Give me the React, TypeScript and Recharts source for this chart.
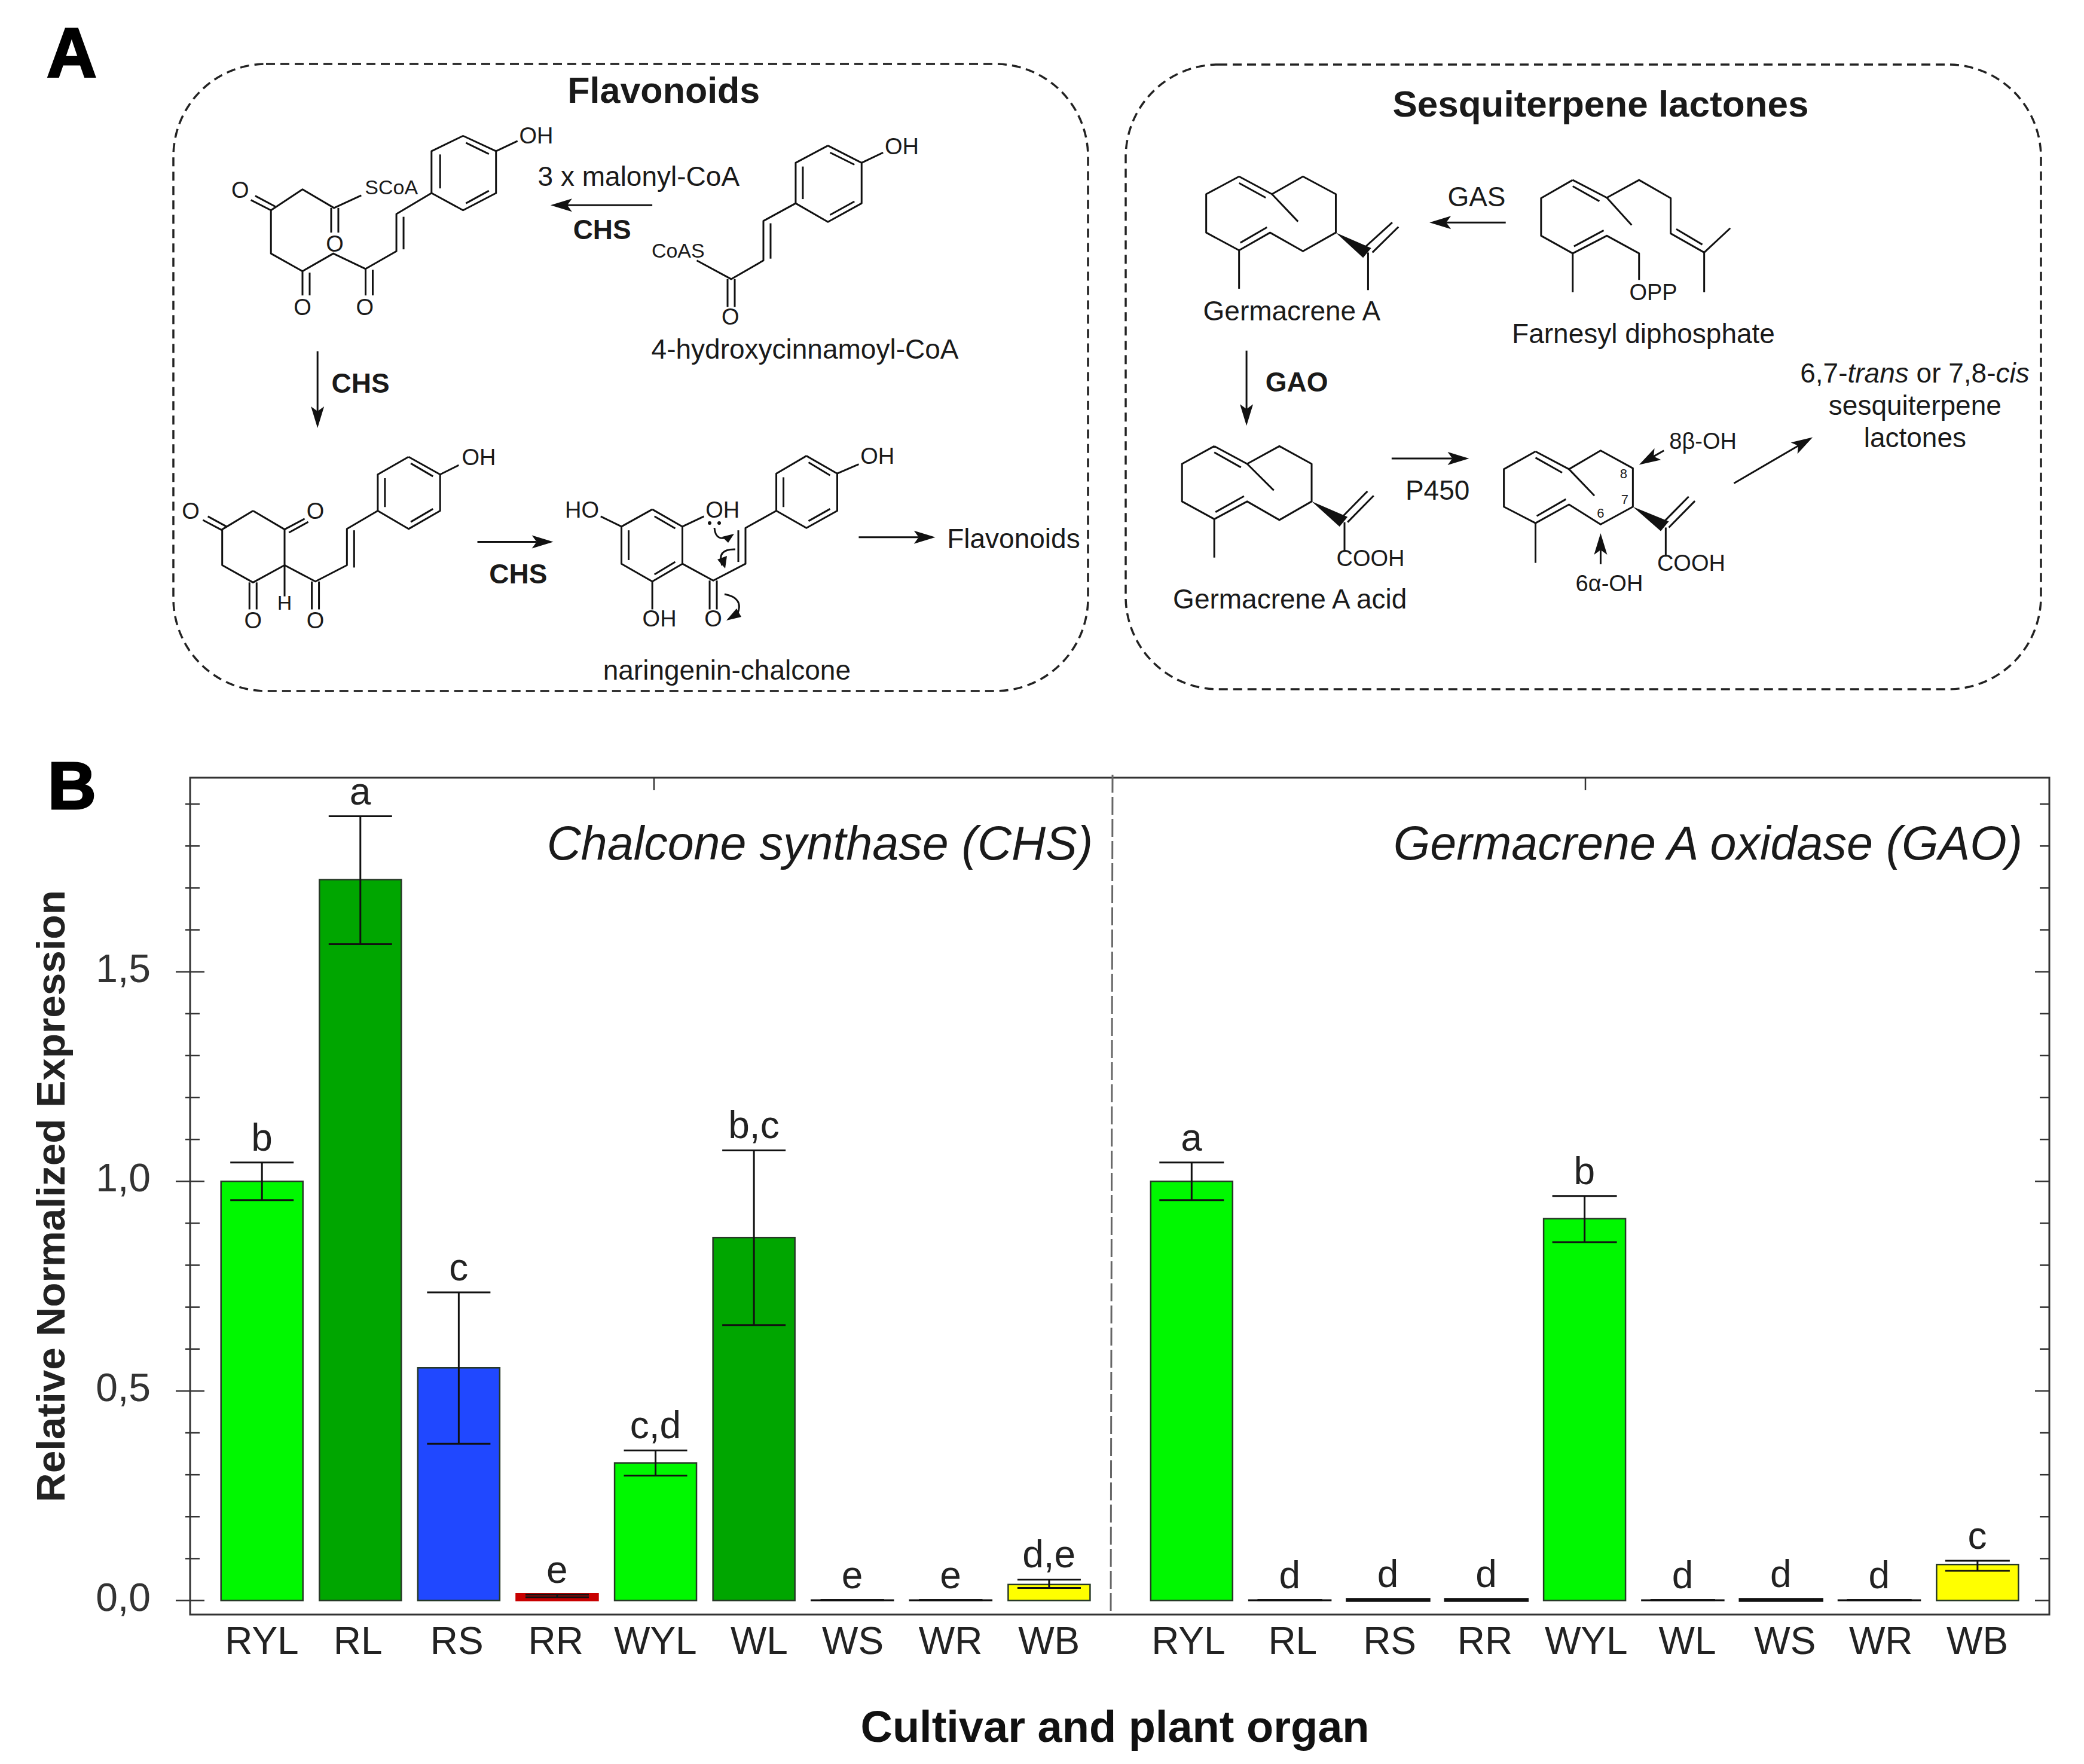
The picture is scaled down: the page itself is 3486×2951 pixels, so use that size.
import React from 'react';
import { ComposedChart, Bar, Line, Cell, ErrorBar, LabelList, XAxis, YAxis } from 'recharts';

const FONT = '"Liberation Sans", Arial, sans-serif';
const INK = '#1a1a1a';

// expression values
const categories = ['RYL', 'RL', 'RS', 'RR', 'WYL', 'WL', 'WS', 'WR', 'WB'];
const barColors = ['#00f800', '#00a600', '#2048ff', '#c80000', '#00f800', '#00a600', '#00a600', '#00a600', '#ffff00'];

const chsValues = [1.0, 1.72, 0.555, 0.016, 0.328, 0.866, 0.001, 0.001, 0.038];
const chsLower = [0.955, 1.566, 0.374, 0.008, 0.298, 0.657, 0.001, 0.001, 0.03];
const chsUpper = [1.045, 1.871, 0.735, 0.014, 0.358, 1.074, 0.001, 0.001, 0.05];
const chsLetters = ['b', 'a', 'c', 'e', 'c,d', 'b,c', 'e', 'e', 'd,e'];

const gaoValues = [1.0, 0.001, 0.003, 0.003, 0.911, 0.001, 0.003, 0.001, 0.086];
const gaoLower = [0.955, 0.001, 0.003, 0.003, 0.855, 0.001, 0.003, 0.001, 0.071];
const gaoUpper = [1.045, 0.001, 0.003, 0.003, 0.965, 0.001, 0.003, 0.001, 0.095];
const gaoLetters = ['a', 'd', 'd', 'd', 'b', 'd', 'd', 'd', 'c'];

const yTicks = [0, 0.1, 0.2, 0.3, 0.4, 0.5, 0.6, 0.7, 0.8, 0.9, 1.0, 1.1, 1.2, 1.3, 1.4, 1.5, 1.6, 1.7, 1.8, 1.9];
const yDomain = [-0.0335, 1.963];

// the category labels in the figure are not quite centred under their bars
const chsTickNudge = [0, -4, -3, -2, 0, 9, 1, 0, 0];
const gaoTickNudge = [-5, 5, 3, -2, 3, 8, 7, 3, 0];

const isMajor = (v: number) => Math.abs(v * 2 - Math.round(v * 2)) < 1e-6;

function makeRows(values: number[], lower: number[], upper: number[], letters: string[]) {
  return categories.map((name, i) => ({
    name,
    value: values[i],
    upper: upper[i],
    err: [values[i] - lower[i], upper[i] - values[i]],
    letter: letters[i],
  }));
}

function LeftTick({ x, y, payload }: any) {
  const major = isMajor(payload.value);
  return (
    <g>
      <line x1={x - (major ? 24 : 8)} x2={x + (major ? 24 : 16)} y1={y} y2={y} stroke="#333" strokeWidth={2.5} />
      {major && (
        <text x={x - 66} y={y + 17} textAnchor="end" fontSize={66} fontFamily={FONT} fill="#333">
          {payload.value.toFixed(1).replace('.', ',')}
        </text>
      )}
    </g>
  );
}

function RightTick({ x, y, payload }: any) {
  const major = isMajor(payload.value);
  return <line x1={x - (major ? 24 : 16)} x2={x} y1={y} y2={y} stroke="#333" strokeWidth={2.5} />;
}

function CategoryTick({ x, y, payload, index, nudge }: any) {
  return (
    <text x={x + nudge[index]} y={y + 66} textAnchor="middle" fontSize={64} fontFamily={FONT} fill="#222">
      {payload.value}
    </text>
  );
}

function Panel({ rows, left, width, plotLeft, plotRight, pad, tick, capWidth, orientation, nudge }: any) {
  return (
    <div style={{ position: 'absolute', left, top: 0 }}>
      <ComposedChart
        width={width}
        height={2951}
        data={rows}
        margin={{ top: 1301, bottom: 249, left: plotLeft, right: plotRight }}
      >
        <XAxis
          dataKey="name"
          interval={0}
          height={1}
          padding={pad}
          axisLine={false}
          tickLine={false}
          tickSize={0}
          tickMargin={0}
          tick={<CategoryTick nudge={nudge} />}
        />
        <YAxis
          orientation={orientation}
          width={1}
          type="number"
          domain={yDomain}
          ticks={yTicks}
          interval={0}
          axisLine={false}
          tickLine={false}
          tickSize={0}
          tickMargin={0}
          tick={tick}
        />
        <Bar dataKey="value" barSize={137} stroke="#263826" strokeWidth={2.5} isAnimationActive={false}>
          {rows.map((r: any, i: number) => {
            // near-zero bars read as plain black rules in the figure
            const tiny = r.value < 0.01;
            return (
              <Cell
                key={r.name}
                fill={barColors[i]}
                stroke={tiny ? '#111' : r.value < 0.02 ? barColors[i] : '#263826'}
                strokeWidth={tiny && r.value > 0.002 ? 4.5 : 2.5}
              />
            );
          })}
          <ErrorBar dataKey="err" width={capWidth} stroke="#111" strokeWidth={3} isAnimationActive={false} />
        </Bar>
        <Line dataKey="upper" stroke="none" dot={false} activeDot={false} isAnimationActive={false}>
          <LabelList dataKey="letter" position="top" offset={20} fontSize={64} fontFamily={FONT} fill="#222" />
        </Line>
      </ComposedChart>
    </div>
  );
}

// ---- panel A drawing helpers, coordinates taken from the two crops ----
type P = [number, number];
const fromL = ([x, y]: P): P => [x / 0.834, y / 1.285];
const fromR = ([x, y]: P): P => [1860 + x / 0.964, 60 + y / 1.352];

function bonds(map: (p: P) => P, lines: P[][]) {
  return lines.map((pts, i) => (
    <polyline
      key={i}
      points={pts.map(map).map((p) => p.join(',')).join(' ')}
      fill="none"
      stroke="#111"
      strokeWidth={3}
      strokeLinejoin="round"
    />
  ));
}

function labels(map: (p: P) => P, items: [number, number, string, number?, boolean?][]) {
  return items.map(([x, y, s, size, bold], i) => {
    const [tx, ty] = map([x, y]);
    const fs = size ?? 46;
    return (
      <text
        key={i}
        x={tx}
        y={ty + fs * 0.36 - 2}
        textAnchor="middle"
        fontSize={fs}
        fontWeight={bold ? 700 : 400}
        fontFamily={FONT}
        fill={INK}
      >
        {s}
      </text>
    );
  });
}

function arrows(map: (p: P) => P, items: [P, P][]) {
  return items.map(([a, b], i) => {
    const [x1, y1] = map(a);
    const [x2, y2] = map(b);
    const len = Math.hypot(x2 - x1, y2 - y1);
    const ux = (x2 - x1) / len;
    const uy = (y2 - y1) / len;
    const head = 36;
    const half = 11;
    const bx = x2 - ux * head;
    const by = y2 - uy * head;
    const nx = bx + ux * 8;
    const ny = by + uy * 8;
    return (
      <g key={i}>
        <line x1={x1} y1={y1} x2={nx} y2={ny} stroke="#111" strokeWidth={3} />
        <polygon
          points={`${x2},${y2} ${bx - uy * half},${by + ux * half} ${nx},${ny} ${bx + uy * half},${by - ux * half}`}
          fill="#111"
        />
      </g>
    );
  });
}

function wedges(map: (p: P) => P, items: [P, P, P][]) {
  return items.map((pts, i) => (
    <polygon key={i} points={pts.map(map).map((p) => p.join(',')).join(' ')} fill="#111" />
  ));
}

const leftBonds: P[][] = [
  // malonyl intermediate
  [[646, 292], [692, 325], [692, 415], [646, 452], [602, 415], [602, 325], [646, 292]],
  [[614, 332], [614, 405]], [[650, 307], [682, 331]], [[650, 437], [682, 410]],
  [[692, 325], [722, 303]],
  [[602, 415], [553, 460], [553, 540], [510, 578], [510, 635]],
  [[563, 466], [563, 536]], [[520, 580], [520, 635]],
  [[510, 578], [465, 545], [422, 583], [422, 635]], [[432, 586], [432, 635]],
  [[422, 583], [378, 545], [378, 452], [350, 430]], [[384, 444], [356, 421]],
  [[378, 452], [422, 407], [466, 447], [504, 420]],
  [[462, 447], [462, 500]], [[472, 447], [472, 500]],
  // 4-hydroxycinnamoyl-CoA
  [[1155, 313], [1202, 350], [1202, 437], [1155, 477], [1110, 437], [1110, 350], [1155, 313]],
  [[1120, 358], [1120, 428]], [[1158, 328], [1192, 354]], [[1158, 462], [1192, 433]],
  [[1202, 350], [1232, 328]],
  [[1110, 437], [1065, 475], [1065, 560], [1020, 600], [972, 560]],
  [[1075, 480], [1075, 556]],
  [[1015, 600], [1015, 660]], [[1025, 600], [1025, 660]],
  // cyclised intermediate
  [[353, 1098], [397, 1138], [397, 1215], [353, 1252], [310, 1215], [310, 1138], [353, 1098]],
  [[310, 1140], [283, 1118]], [[316, 1132], [290, 1110]],
  [[397, 1138], [425, 1115]], [[403, 1145], [430, 1122]],
  [[348, 1252], [348, 1310]], [[358, 1252], [358, 1310]],
  [[397, 1215], [397, 1282]],
  [[397, 1215], [440, 1250], [484, 1215], [484, 1137], [527, 1098]],
  [[435, 1250], [435, 1310]], [[445, 1250], [445, 1310]], [[494, 1220], [494, 1140]],
  [[570, 982], [614, 1020], [614, 1098], [570, 1137], [527, 1098], [527, 1020], [570, 982]],
  [[537, 1028], [537, 1090]], [[573, 996], [604, 1024]], [[573, 1122], [604, 1094]],
  [[614, 1020], [640, 1000]],
  // naringenin-chalcone
  [[910, 1095], [952, 1132], [952, 1212], [910, 1250], [867, 1212], [867, 1132], [910, 1095]],
  [[877, 1140], [877, 1204]], [[913, 1110], [942, 1136]], [[913, 1235], [942, 1208]],
  [[867, 1132], [838, 1110]], [[952, 1132], [982, 1110]],
  [[910, 1250], [910, 1310]],
  [[952, 1212], [995, 1248], [1040, 1212], [1040, 1135], [1083, 1098]],
  [[990, 1248], [990, 1310]], [[1000, 1248], [1000, 1310]], [[1030, 1208], [1030, 1140]],
  [[1125, 980], [1168, 1018], [1168, 1098], [1125, 1135], [1083, 1098], [1083, 1018], [1125, 980]],
  [[1093, 1026], [1093, 1090]], [[1128, 994], [1158, 1022]], [[1128, 1120], [1158, 1094]],
  [[1168, 1018], [1198, 998]],
];

const leftArrows: [P, P][] = [
  [[910, 441], [768, 441]],
  [[443, 755], [443, 920]],
  [[666, 1165], [772, 1165]],
  [[1198, 1155], [1305, 1155]],
];

const leftLabels: [number, number, string, number?, boolean?][] = [
  [926, 196, 'Flavonoids', 61, true],
  [748, 293, 'OH', 38], [546, 405, 'SCoA', 34], [335, 410, 'O', 38], [467, 526, 'O', 38],
  [422, 662, 'O', 38], [509, 662, 'O', 38],
  [891, 381, '3 x malonyl-CoA'], [840, 495, 'CHS', 46, true],
  [1258, 317, 'OH', 38], [946, 541, 'CoAS', 34], [1019, 683, 'O', 38],
  [1123, 752, '4-hydroxycinnamoyl-CoA'],
  [503, 825, 'CHS', 46, true],
  [668, 985, 'OH', 38], [266, 1101, 'O', 38], [440, 1101, 'O', 38], [353, 1335, 'O', 38],
  [397, 1298, 'H', 34], [440, 1335, 'O', 38],
  [723, 1236, 'CHS', 46, true],
  [812, 1098, 'HO', 38], [1008, 1098, 'OH', 38], [920, 1332, 'OH', 38], [995, 1332, 'O', 38],
  [1224, 982, 'OH', 38],
  [1414, 1160, 'Flavonoids'], [1014, 1442, 'naringenin-chalcone'],
];

const rightBonds: P[][] = [
  // germacrene A
  [[205, 318], [258, 358], [308, 318], [361, 358], [361, 445], [308, 487], [255, 445], [205, 485], [152, 445], [152, 358], [205, 318]],
  [[205, 333], [248, 366]], [[250, 433], [207, 468]],
  [[258, 358], [300, 420]], [[205, 485], [205, 572]],
  [[413, 490], [413, 575]], [[408, 478], [452, 422]], [[420, 490], [462, 432]],
  // farnesyl diphosphate
  [[743, 326], [798, 366], [850, 326], [901, 367], [901, 447], [955, 490], [997, 435]],
  [[910, 437], [952, 472]], [[955, 490], [955, 580]],
  [[743, 326], [692, 367], [692, 452], [743, 492], [798, 452], [850, 492], [850, 552]],
  [[743, 340], [786, 374]], [[793, 440], [745, 476]],
  [[743, 492], [743, 580]], [[798, 366], [838, 428]],
  // germacrene A acid
  [[165, 928], [218, 968], [270, 928], [322, 968], [322, 1053], [270, 1095], [218, 1053], [165, 1093], [113, 1053], [113, 968], [165, 928]],
  [[165, 942], [208, 976]], [[213, 1041], [167, 1077]],
  [[218, 968], [261, 1028]], [[165, 1093], [165, 1180]],
  [[375, 1100], [375, 1165]], [[370, 1090], [412, 1030]], [[380, 1100], [422, 1040]],
  // hydroxylated intermediate
  [[683, 940], [737, 980], [788, 938], [840, 978], [840, 1065], [788, 1105], [737, 1060], [683, 1102], [632, 1065], [632, 980], [683, 940]],
  [[683, 954], [726, 988]], [[732, 1048], [685, 1086]],
  [[737, 980], [778, 1040]], [[683, 1102], [683, 1192]],
  [[893, 1112], [893, 1178]], [[888, 1102], [930, 1042]], [[898, 1112], [940, 1052]],
];

const rightWedges: [P, P, P][] = [
  [[361, 445], [418, 480], [405, 502]],
  [[322, 1053], [380, 1088], [367, 1110]],
  [[840, 1065], [898, 1098], [885, 1120]],
];

const rightArrows: [P, P][] = [
  [[635, 422], [512, 422]],
  [[217, 712], [217, 882]],
  [[451, 956], [576, 956]],
  [[890, 938], [850, 970]],
  [[788, 1195], [788, 1125]],
  [[1003, 1012], [1130, 908]],
];

const rightLabels: [number, number, string, number?, boolean?][] = [
  [788, 155, 'Sesquiterpene lactones', 62, true],
  [588, 366, 'GAS'], [873, 582, 'OPP', 38], [290, 624, 'Germacrene A'], [857, 675, 'Farnesyl diphosphate'],
  [298, 785, 'GAO', 46, true], [525, 1030, 'P450'],
  [417, 1183, 'COOH', 38], [934, 1194, 'COOH', 38], [287, 1275, 'Germacrene A acid'],
  [953, 918, '8β-OH', 38], [802, 1240, '6α-OH', 38],
  [825, 992, '8', 22], [827, 1050, '7', 22], [788, 1082, '6', 22],
  [1295, 838, 'sesquiterpene'], [1295, 910, 'lactones'],
];

function Overlay() {
  return (
    <svg width={3486} height={2951} style={{ position: 'absolute', left: 0, top: 0 }}>
      <text x={78} y={129} fontSize={116} fontWeight={700} fontFamily={FONT} fill="#000" stroke="#000" strokeWidth={3}>A</text>
      <text x={80} y={1353} fontSize={112} fontWeight={700} fontFamily={FONT} fill="#000" stroke="#000" strokeWidth={3}>B</text>

      <rect x={290} y={107} width={1530} height={1049} rx={155} fill="none" stroke="#222" strokeWidth={3.5} strokeDasharray="15 9" />
      <rect x={1883} y={108} width={1531} height={1045} rx={155} fill="none" stroke="#222" strokeWidth={3.5} strokeDasharray="15 9" />

      {bonds(fromL, leftBonds)}
      {arrows(fromL, leftArrows)}
      {labels(fromL, leftLabels)}
      {/* curved electron arrows on naringenin-chalcone */}
      <path d="M1195,883 Q1197,908 1222,897 M1230,919 Q1198,918 1208,946 M1212,994 Q1244,1000 1234,1026" fill="none" stroke="#111" strokeWidth={3} />
      <polygon points="1228,893 1208,898 1218,908" fill="#111" />
      <polygon points="1213,951 1200,936 1216,930" fill="#111" />
      <polygon points="1215,1038 1232,1018 1240,1032" fill="#111" />
      <circle cx={1187} cy={875} r={3} fill="#111" />
      <circle cx={1203} cy={875} r={3} fill="#111" />

      {bonds(fromR, rightBonds)}
      {wedges(fromR, rightWedges)}
      {arrows(fromR, rightArrows)}
      {labels(fromR, rightLabels)}
      <text x={3203} y={640} textAnchor="middle" fontSize={46} fontFamily={FONT} fill={INK}>
        6,7-<tspan fontStyle="italic">trans</tspan> or 7,8-<tspan fontStyle="italic">cis</tspan>
      </text>

      {/* panel B frame and texts */}
      <rect x={318} y={1301} width={3110} height={1400} fill="none" stroke="#333" strokeWidth={3} />
      <line x1={1094} x2={1094} y1={1301} y2={1322} stroke="#333" strokeWidth={2.5} />
      <line x1={2652} x2={2652} y1={1301} y2={1322} stroke="#333" strokeWidth={2.5} />
      <line x1={1861} y1={1296} x2={1858} y2={2701} stroke="#666" strokeWidth={3} strokeDasharray="30 7" />
      <text x={1828} y={1438} textAnchor="end" fontSize={79} fontStyle="italic" fontFamily={FONT} fill={INK}>
        Chalcone synthase (CHS)
      </text>
      <text x={3383} y={1438} textAnchor="end" fontSize={79} fontStyle="italic" fontFamily={FONT} fill={INK}>
        Germacrene A oxidase (GAO)
      </text>
      <text x={1865} y={2914} textAnchor="middle" fontSize={74} fontWeight={700} fontFamily={FONT} fill="#111">
        Cultivar and plant organ
      </text>
      <text
        transform="translate(108,2001) rotate(-90)"
        textAnchor="middle"
        fontSize={67.5}
        fontWeight={700}
        fontFamily={FONT}
        fill="#222"
      >
        Relative Normalized Expression
      </text>
    </svg>
  );
}

export default function App() {
  const chsRows = makeRows(chsValues, chsLower, chsUpper, chsLetters);
  const gaoRows = makeRows(gaoValues, gaoLower, gaoUpper, gaoLetters);
  return (
    <div style={{ position: 'absolute', left: 0, top: 0, width: 3486, height: 2951, background: '#fff', overflow: 'hidden' }}>
      <Panel
        rows={chsRows}
        left={0}
        width={1860}
        plotLeft={317}
        plotRight={0}
        pad={{ left: 37.7, right: 23 }}
        tick={<LeftTick />}
        capWidth={53}
        orientation="left"
        nudge={chsTickNudge}
      />
      <Panel
        rows={gaoRows}
        left={1860}
        width={1626}
        plotLeft={0}
        plotRight={57}
        pad={{ left: 50.8, right: 38.3 }}
        tick={<RightTick />}
        capWidth={54}
        orientation="right"
        nudge={gaoTickNudge}
      />
      <Overlay />
    </div>
  );
}
